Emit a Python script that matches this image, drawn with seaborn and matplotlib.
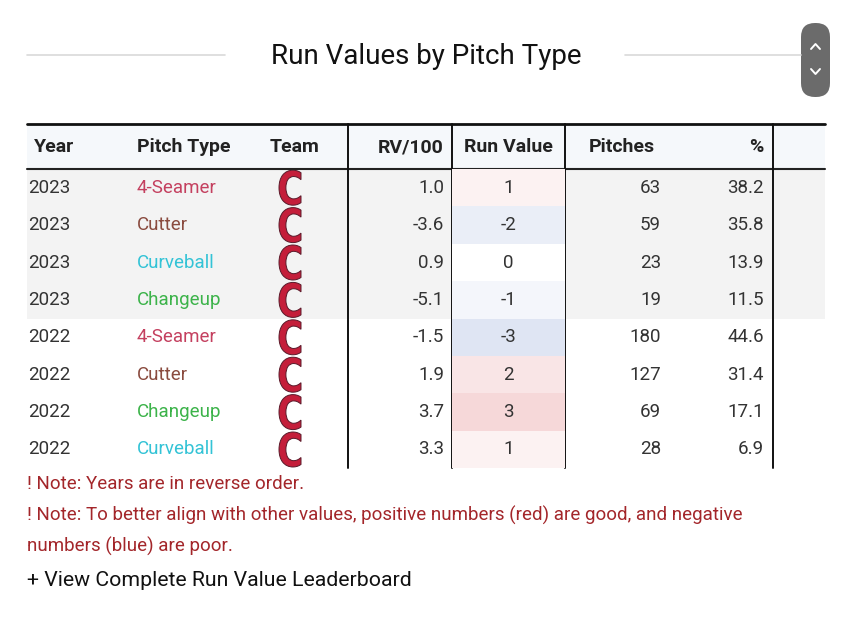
import numpy as np
import pandas as pd
import matplotlib
matplotlib.use("Agg")
import matplotlib.pyplot as plt
import seaborn as sns
from matplotlib.colors import LinearSegmentedColormap
from matplotlib.patches import Rectangle, FancyBboxPatch, PathPatch
from matplotlib.textpath import TextPath
from matplotlib.font_manager import FontProperties
from matplotlib.transforms import Affine2D

# table data
years = [2023, 2023, 2023, 2023, 2022, 2022, 2022, 2022]
pitch_types = ["4-Seamer", "Cutter", "Curveball", "Changeup",
               "4-Seamer", "Cutter", "Changeup", "Curveball"]
rv100 = [1.0, -3.6, 0.9, -5.1, -1.5, 1.9, 3.7, 3.3]
run_value = [1, -2, 0, -1, -3, 2, 3, 1]
pitches = [63, 59, 23, 19, 180, 127, 69, 28]
pct = [38.2, 35.8, 13.9, 11.5, 44.6, 31.4, 17.1, 6.9]
headers = ["Year", "Pitch Type", "Team", "RV/100", "Run Value", "Pitches", "%"]

pitch_colors = {"4-Seamer": "#c4405f", "Cutter": "#8a4b3f",
                "Curveball": "#33c3d6", "Changeup": "#3cb34a"}

df = pd.DataFrame({"Year": years, "Pitch": pitch_types, "RV100": rv100,
                   "RunValue": run_value, "Pitches": pitches, "Pct": pct})

sns.set_theme(style="white")
plt.rcParams["font.family"] = ["Roboto", "DejaVu Sans"]

W, H = 850, 623
fig = plt.figure(figsize=(8.5, 6.23), dpi=100)
ax = fig.add_axes([0, 0, 1, 1])
ax.set_xlim(0, W)
ax.set_ylim(H, 0)
ax.axis("off")

# title with side rules
ax.text(426, 56, "Run Values by Pitch Type", ha="center", va="center",
        fontsize=20, color="#111111")
ax.plot([27, 225], [55, 55], color="#d9d9d9", lw=1.2)
ax.plot([625, 801], [55, 55], color="#d9d9d9", lw=1.2)

# scroll button
ax.add_patch(FancyBboxPatch((801, 23), 29, 74, boxstyle="round,pad=0,rounding_size=14",
                            fc="#6b6b6b", ec="none"))
ax.plot([811, 815.5, 820], [49, 44, 49], color="white", lw=1.4, solid_capstyle="round")
ax.plot([811, 815.5, 820], [69, 74, 69], color="white", lw=1.4, solid_capstyle="round")

top, head_bot, row_h = 124, 169, 37.4
n = len(df)
bottom = head_bot + n * row_h
left, right = 27, 825

# header band and 2023 band
ax.add_patch(Rectangle((left, top), right - left, head_bot - top, fc="#f5f8fb", ec="none"))
ax.add_patch(Rectangle((left, head_bot), right - left, 4 * row_h, fc="#f3f3f3", ec="none"))

ax.plot([left, right], [top, top], color="#111111", lw=2)
ax.plot([left, right], [head_bot, head_bot], color="#222222", lw=1.5)
for vx in [348, 452, 565, 773]:
    ax.plot([vx, vx], [top, bottom], color="#111111", lw=1.4)

hy = (top + head_bot) / 2 + 1
hdr_pos = [(34, "left"), (137, "left"), (270, "left"), (444, "right"),
           (508, "center"), (589, "left"), (764, "right")]
for h, (hx, ha) in zip(headers, hdr_pos):
    ax.text(hx, hy, h, ha=ha, va="center", fontsize=14, fontweight="bold", color="#222222")

# team logo "C"
logo_prop = FontProperties(family="DejaVu Sans", weight="bold")
logo = TextPath((0, 0), "C", size=40, prop=logo_prop)
lb = logo.get_extents()

body = dict(fontsize=13.5, color="#333333", va="center")
for i, r in df.iterrows():
    cy = head_bot + row_h * (i + 0.5)
    ax.text(28, cy, str(r["Year"]), ha="left", **body)
    ax.text(137, cy, r["Pitch"], ha="left", fontsize=13.5, va="center",
            color=pitch_colors[r["Pitch"]])
    ax.text(444, cy, f"{r['RV100']:.1f}", ha="right", **body)
    ax.text(661, cy, str(r["Pitches"]), ha="right", **body)
    ax.text(764, cy, f"{r['Pct']:.1f}", ha="right", **body)
    sx = 22 / lb.width
    sy = 35 / lb.height
    tr = Affine2D().translate(-lb.x0 - lb.width / 2, -lb.y0 - lb.height / 2).scale(sx, -sy).translate(290, cy)
    ax.add_patch(PathPatch(tr.transform_path(logo), fc="#c41e3a", ec="#5a1a2a", lw=0.7))

# run value column as heatmap
cmap = LinearSegmentedColormap.from_list("rv", ["#dfe5f3", "#ffffff", "#f6d8d9"])
hax = fig.add_axes([452 / W, (H - bottom) / H, (565 - 452) / W, (bottom - head_bot) / H])
sns.heatmap(df[["RunValue"]], ax=hax, cmap=cmap, vmin=-3, vmax=3, cbar=False,
            annot=True, fmt="d", annot_kws={"fontsize": 13.5, "color": "#333333"},
            xticklabels=False, yticklabels=False)
hax.set_xlabel("")
hax.set_ylabel("")

# notes
note_c = "#a3262a"
ax.text(27, 484, "! Note: Years are in reverse order.", ha="left", va="center",
        fontsize=13.5, color=note_c)
ax.text(27, 515, "! Note: To better align with other values, positive numbers (red) are good, and negative",
        ha="left", va="center", fontsize=13.5, color=note_c)
ax.text(27, 546, "numbers (blue) are poor.", ha="left", va="center", fontsize=13.5, color=note_c)
ax.text(27, 580, "+ View Complete Run Value Leaderboard", ha="left", va="center",
        fontsize=15.3, color="#111111")

fig.savefig("out.png", dpi=100)
